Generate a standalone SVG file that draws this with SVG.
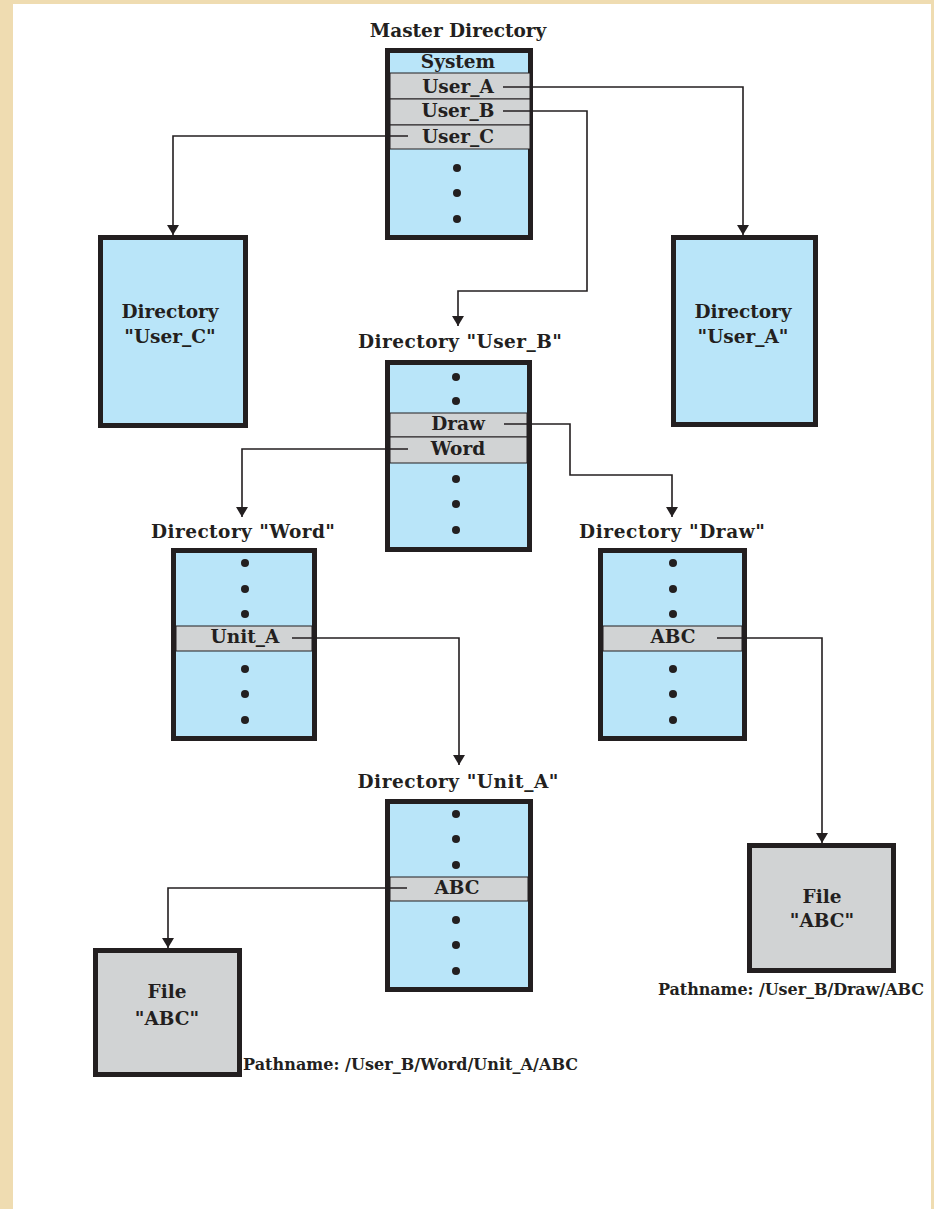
<svg xmlns="http://www.w3.org/2000/svg" width="934" height="1209" viewBox="0 0 934 1209">
<style>
.t{font-family:"DejaVu Serif","Liberation Serif",serif;font-weight:bold;font-size:18.5px;fill:#231f20;text-anchor:middle}
.p{font-family:"DejaVu Serif","Liberation Serif",serif;font-weight:bold;font-size:16px;fill:#231f20}
.box{fill:#b9e5f9;stroke:#231f20;stroke-width:5}
.file{fill:#d1d3d4;stroke:#231f20;stroke-width:5}
.row{fill:#d1d3d4;stroke:#231f20;stroke-width:1}
.dot{fill:#231f20}
.c{fill:none;stroke:#231f20;stroke-width:1.6}
</style>
<defs>
<marker id="ah" viewBox="0 0 10 12" refX="10" refY="6" markerWidth="10" markerHeight="12" markerUnits="userSpaceOnUse" orient="auto">
<path d="M0,0 L10,6 L0,12 z" fill="#231f20"/>
</marker>
</defs>
<rect x="0" y="0" width="934" height="1209" fill="#efdcb1"/>
<rect x="13" y="4" width="918" height="1205" fill="#ffffff"/>

<g id="master">
<text class="t" x="458" y="37">Master Directory</text>
<rect class="box" x="387.5" y="50.5" width="143" height="187"/>
<rect class="row" x="390" y="73" width="140" height="26"/>
<rect class="row" x="390" y="99" width="140" height="26"/>
<rect class="row" x="390" y="125" width="140" height="24"/>
<text class="t" x="458" y="68">System</text>
<text class="t" x="458" y="93">User_A</text>
<text class="t" x="458" y="117">User_B</text>
<text class="t" x="458" y="143">User_C</text>
<circle class="dot" cx="457" cy="168" r="4"/>
<circle class="dot" cx="457" cy="193" r="4"/>
<circle class="dot" cx="457" cy="219" r="4"/>
</g>

<g id="dir-user-c">
<rect class="box" x="100.5" y="237.5" width="145" height="188"/>
<text class="t" x="170" y="318">Directory</text>
<text class="t" x="170" y="343">"User_C"</text>
</g>

<g id="dir-user-a">
<rect class="box" x="673.5" y="237.5" width="142" height="187"/>
<text class="t" x="743" y="318">Directory</text>
<text class="t" x="743" y="343">"User_A"</text>
</g>

<g id="dir-user-b">
<text class="t" x="460" y="348" textLength="204" lengthAdjust="spacing">Directory "User_B"</text>
<rect class="box" x="387.5" y="362.5" width="142" height="187"/>
<rect class="row" x="390" y="413" width="137" height="24"/>
<rect class="row" x="390" y="437" width="137" height="26"/>
<text class="t" x="458" y="430">Draw</text>
<text class="t" x="458" y="455">Word</text>
<circle class="dot" cx="456" cy="377" r="4"/>
<circle class="dot" cx="456" cy="401" r="4"/>
<circle class="dot" cx="456" cy="479" r="4"/>
<circle class="dot" cx="456" cy="504" r="4"/>
<circle class="dot" cx="456" cy="530" r="4"/>
</g>

<g id="dir-word">
<text class="t" x="243" y="538" textLength="184" lengthAdjust="spacing">Directory "Word"</text>
<rect class="box" x="173.5" y="550.5" width="141" height="188"/>
<rect class="row" x="176" y="626" width="136" height="25"/>
<text class="t" x="245" y="643">Unit_A</text>
<circle class="dot" cx="245" cy="563" r="4"/>
<circle class="dot" cx="245" cy="589" r="4"/>
<circle class="dot" cx="245" cy="614" r="4"/>
<circle class="dot" cx="245" cy="669" r="4"/>
<circle class="dot" cx="245" cy="694" r="4"/>
<circle class="dot" cx="245" cy="720" r="4"/>
</g>

<g id="dir-draw">
<text class="t" x="672" y="538" textLength="186" lengthAdjust="spacing">Directory "Draw"</text>
<rect class="box" x="600.5" y="550.5" width="144" height="188"/>
<rect class="row" x="603" y="626" width="139" height="25"/>
<text class="t" x="673" y="643">ABC</text>
<circle class="dot" cx="673" cy="563" r="4"/>
<circle class="dot" cx="673" cy="589" r="4"/>
<circle class="dot" cx="673" cy="614" r="4"/>
<circle class="dot" cx="673" cy="669" r="4"/>
<circle class="dot" cx="673" cy="694" r="4"/>
<circle class="dot" cx="673" cy="720" r="4"/>
</g>

<g id="dir-unit-a">
<text class="t" x="458" y="788" textLength="201" lengthAdjust="spacing">Directory "Unit_A"</text>
<rect class="box" x="387.5" y="801.5" width="143" height="188"/>
<rect class="row" x="390" y="877" width="138" height="24"/>
<text class="t" x="457" y="894">ABC</text>
<circle class="dot" cx="456" cy="814" r="4"/>
<circle class="dot" cx="456" cy="839" r="4"/>
<circle class="dot" cx="456" cy="865" r="4"/>
<circle class="dot" cx="456" cy="920" r="4"/>
<circle class="dot" cx="456" cy="945" r="4"/>
<circle class="dot" cx="456" cy="971" r="4"/>
</g>

<g id="file-left">
<rect class="file" x="95.5" y="950.5" width="144" height="124"/>
<text class="t" x="167" y="998">File</text>
<text class="t" x="167" y="1025">"ABC"</text>
<text class="p" x="243" y="1070" textLength="335" lengthAdjust="spacing">Pathname: /User_B/Word/Unit_A/ABC</text>
</g>

<g id="file-right">
<rect class="file" x="749.5" y="845.5" width="144" height="125"/>
<text class="t" x="822" y="903">File</text>
<text class="t" x="822" y="927">"ABC"</text>
<text class="p" x="658" y="995" textLength="266" lengthAdjust="spacing">Pathname: /User_B/Draw/ABC</text>
</g>

<g id="connectors">
<path class="c" d="M503,87 H743 V235" marker-end="url(#ah)"/>
<path class="c" d="M503,111 H587 V291 H458 V326" marker-end="url(#ah)"/>
<path class="c" d="M408,136 H173 V235" marker-end="url(#ah)"/>
<path class="c" d="M504,424 H570 V475 H672 V517" marker-end="url(#ah)"/>
<path class="c" d="M408,449 H242 V517" marker-end="url(#ah)"/>
<path class="c" d="M292,638 H459 V765" marker-end="url(#ah)"/>
<path class="c" d="M717,638 H822 V843" marker-end="url(#ah)"/>
<path class="c" d="M407,888 H168 V948" marker-end="url(#ah)"/>
</g>
</svg>
